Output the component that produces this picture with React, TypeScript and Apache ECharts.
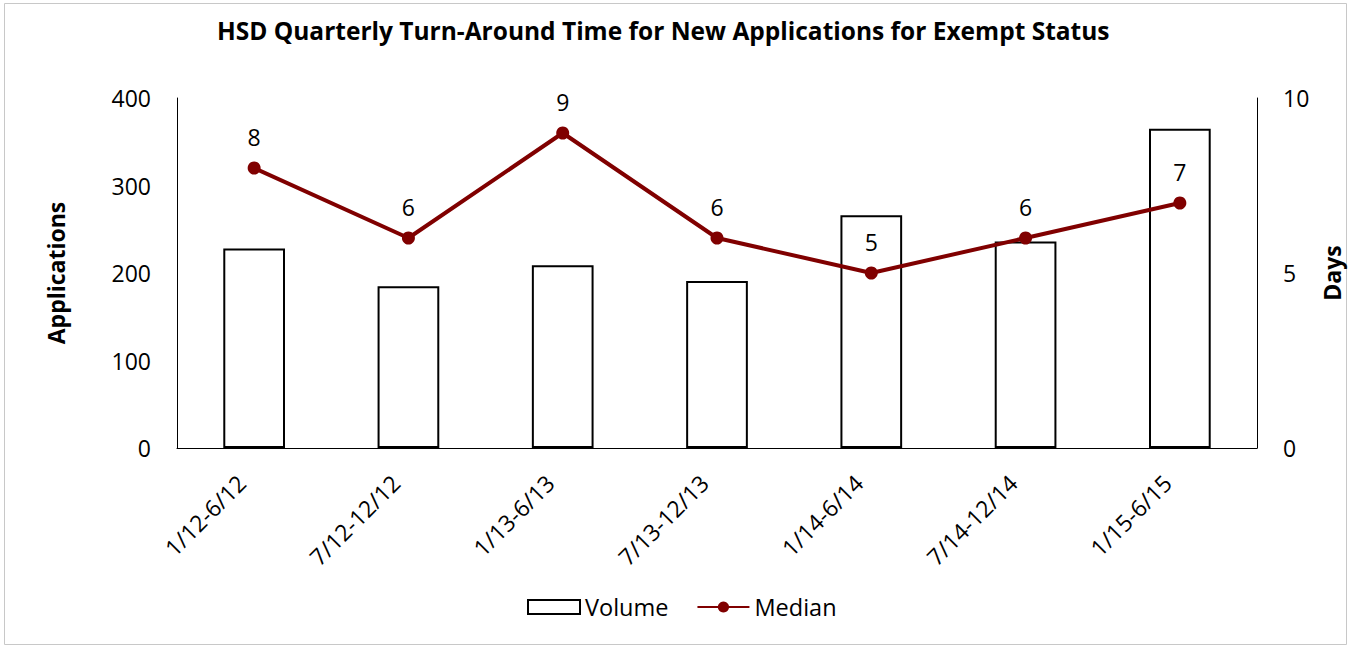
import React, { useEffect, useRef } from "react";
import * as echarts from "echarts";

const categories = ["1/12-6/12", "7/12-12/12", "1/13-6/13", "7/13-12/13", "1/14-6/14", "7/14-12/14", "1/15-6/15"];
const volume = [228, 185, 209, 191, 266, 236, 365];
const median = [8, 6, 9, 6, 5, 6, 7];
const leftTicks = { min: 0, max: 400, interval: 100 };
const rightTicks = { min: 0, max: 10, interval: 5 };

const FONT = "'Open Sans', 'Noto Sans', sans-serif";

export default function App() {
  const ref = useRef<HTMLDivElement>(null);
  useEffect(() => {
    document.body.style.margin = "0";
    const chart = echarts.init(ref.current!, null, { renderer: "svg" });
    chart.setOption({
      animation: false,
      backgroundColor: "#ffffff",
      textStyle: { fontFamily: FONT, color: "#000" },
      title: {
        text: "HSD Quarterly Turn-Around Time for New Applications for Exempt Status",
        left: 212,
        top: 13,
        textStyle: { fontFamily: FONT, fontSize: 24.5, fontWeight: "bold", color: "#000" },
      },
      graphic: [
        {
          type: "rect",
          shape: { x: 4.5, y: 3.5, width: 1342, height: 641 },
          style: { fill: "none", stroke: "#c8c8c8", lineWidth: 1 },
          silent: true,
        },
      ],
      legend: {
        bottom: 25,
        left: 522,
        itemWidth: 52,
        itemHeight: 14,
        itemGap: 28,
        textStyle: { fontFamily: FONT, fontSize: 23.5, color: "#000", padding: [0, 0, 0, 0] },
        data: [
          { name: "Volume", icon: "rect" },
          { name: "Median" },
        ],
      },
      grid: { left: 177, right: 97, top: 98, bottom: 201, containLabel: false },
      xAxis: {
        type: "category",
        data: categories,
        axisLine: { show: true, lineStyle: { color: "#000", width: 1 } },
        axisTick: { show: false },
        axisLabel: {
          rotate: 45,
          margin: 18,
          padding: [0, 18, 0, 0],
          fontSize: 23,
          fontFamily: FONT,
          color: "#000",
          interval: 0,
        },
      },
      yAxis: [
        {
          type: "value",
          ...leftTicks,
          name: "Applications",
          nameLocation: "middle",
          nameRotate: 90,
          nameGap: 110,
          nameTextStyle: { fontFamily: FONT, fontSize: 23, fontWeight: "bold", color: "#000" },
          axisLine: { show: true, lineStyle: { color: "#000", width: 1 } },
          axisTick: { show: false },
          splitLine: { show: false },
          axisLabel: { margin: 26, fontSize: 23, fontFamily: FONT, color: "#000" },
        },
        {
          type: "value",
          ...rightTicks,
          name: "Days",
          nameLocation: "middle",
          nameRotate: 90,
          nameGap: 57,
          nameTextStyle: { fontFamily: FONT, fontSize: 23, fontWeight: "bold", color: "#000" },
          axisLine: { show: true, lineStyle: { color: "#000", width: 1 } },
          axisTick: { show: false },
          splitLine: { show: false },
          axisLabel: { margin: 26, fontSize: 23, fontFamily: FONT, color: "#000" },
        },
      ],
      series: [
        {
          name: "Volume",
          type: "bar",
          data: volume,
          yAxisIndex: 0,
          barWidth: "40%",
          itemStyle: { color: "#ffffff", borderColor: "#000", borderWidth: 2 },
        },
        {
          name: "Median",
          type: "line",
          data: median,
          yAxisIndex: 1,
          symbol: "circle",
          symbolSize: 13,
          lineStyle: { color: "#800000", width: 4 },
          itemStyle: { color: "#800000" },
          label: { show: true, position: "top", distance: 13, fontSize: 23, fontFamily: FONT, color: "#000" },
        },
      ],
    });
    return () => chart.dispose();
  }, []);
  return <div ref={ref} style={{ width: 1354, height: 649 }} />;
}
